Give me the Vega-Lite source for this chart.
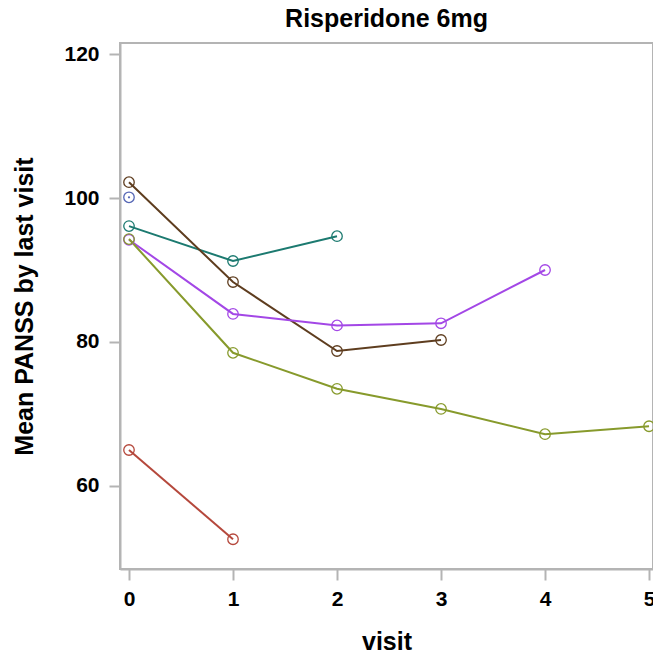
{
  "$schema": "https://vega.github.io/schema/vega-lite/v6.json",
  "width": 533,
  "height": 526,
  "autosize": {"type": "none"},
  "padding": {"left": 120, "top": 43, "right": 0, "bottom": 88},
  "background": "white",
  "config": {
    "font": "Liberation Sans",
    "view": {"stroke": "#b4b4b4", "strokeWidth": 2},
    "axis": {
      "domainColor": "#b4b4b4", "domainWidth": 2,
      "tickColor": "#b4b4b4", "tickWidth": 2, "tickSize": 11,
      "grid": false,
      "labelFont": "Liberation Sans", "labelFontSize": 21, "labelFontWeight": "bold", "labelColor": "black",
      "titleFont": "Liberation Sans", "titleFontSize": 25, "titleFontWeight": "bold", "titleColor": "black"
    }
  },
  "title": {"text": "Risperidone 6mg", "fontSize": 25, "fontWeight": "bold", "font": "Liberation Sans", "color": "black", "anchor": "middle", "offset": 11},
  "data": {"values": [
    {"group": "last0", "visit": 0, "panss": 100.1},
    {"group": "last1", "visit": 0, "panss": 65.0},
    {"group": "last1", "visit": 1, "panss": 52.6},
    {"group": "last2", "visit": 0, "panss": 96.1},
    {"group": "last2", "visit": 1, "panss": 91.25},
    {"group": "last2", "visit": 2, "panss": 94.7},
    {"group": "last3", "visit": 0, "panss": 102.2},
    {"group": "last3", "visit": 1, "panss": 88.33},
    {"group": "last3", "visit": 2, "panss": 78.75},
    {"group": "last3", "visit": 3, "panss": 80.28},
    {"group": "last4", "visit": 0, "panss": 94.2},
    {"group": "last4", "visit": 1, "panss": 83.9},
    {"group": "last4", "visit": 2, "panss": 82.3},
    {"group": "last4", "visit": 3, "panss": 82.6},
    {"group": "last4", "visit": 4, "panss": 90.0},
    {"group": "last5", "visit": 0, "panss": 94.3},
    {"group": "last5", "visit": 1, "panss": 78.5},
    {"group": "last5", "visit": 2, "panss": 73.5},
    {"group": "last5", "visit": 3, "panss": 70.7},
    {"group": "last5", "visit": 4, "panss": 67.2},
    {"group": "last5", "visit": 5, "panss": 68.3}
  ]},
  "encoding": {
    "x": {"field": "visit", "type": "quantitative",
      "scale": {"domain": [-0.0865, 5.038], "nice": false, "zero": false},
      "axis": {"values": [0, 1, 2, 3, 4, 5], "title": "visit", "titlePadding": 20, "labelPadding": 8}},
    "y": {"field": "panss", "type": "quantitative",
      "scale": {"domain": [48.47, 121.53], "nice": false, "zero": false},
      "axis": {"values": [60, 80, 100, 120], "title": "Mean PANSS by last visit", "titlePadding": 26, "labelPadding": 10}},
    "color": {"field": "group", "type": "nominal", "legend": null,
      "scale": {"domain": ["last0", "last1", "last2", "last3", "last4", "last5"],
        "range": ["#5566b5", "#b5483c", "#1c7a70", "#5e3d1f", "#a347e6", "#879a2c"]}}
  },
  "layer": [
    {"mark": {"type": "line", "strokeWidth": 2, "clip": true}},
    {"mark": {"type": "point", "shape": "circle", "filled": false, "size": 110, "strokeWidth": 1.3, "opacity": 1, "clip": true}},
    {"transform": [{"filter": "datum.group === 'last0'"}],
     "mark": {"type": "circle", "size": 5, "opacity": 1, "clip": true}}
  ]
}
